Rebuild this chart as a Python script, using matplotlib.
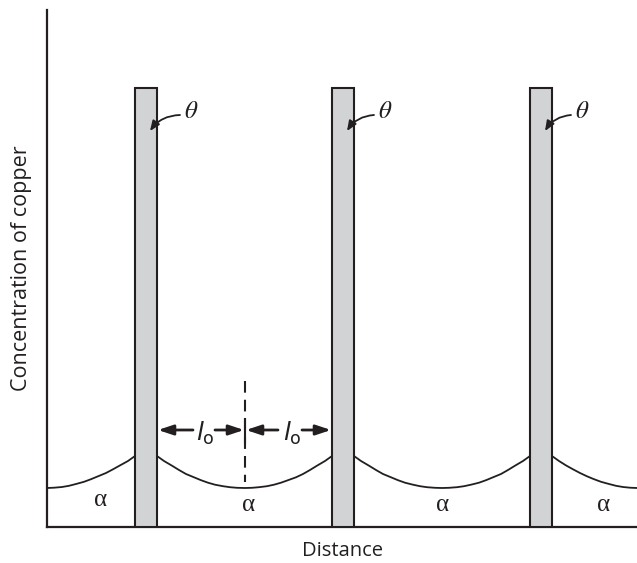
import matplotlib.pyplot as plt

# theta plates: left edge (distance units), width, height (concentration units)
theta_left = [88, 285, 483]
theta_width = 22
theta_top = 439

# alpha concentration profile
edge_x = [0, 7, 15, 22, 29, 37, 44, 51, 59, 66, 73, 81, 88]
edge_c = [39, 39.3, 40, 41.2, 43, 45.2, 47.8, 50.7, 54, 57.7, 61.6, 66, 71]
gap1_x = [110, 117, 125, 132, 139, 147, 154, 161, 168, 176, 183, 190, 198,
          205, 212, 220, 227, 234, 241, 249, 256, 263, 270, 278, 285]
gap2_x = [307, 314, 322, 329, 336, 344, 351, 358, 366, 373, 380, 388, 395,
          402, 410, 417, 424, 432, 439, 446, 454, 461, 468, 476, 483]
gap_c = [71, 66, 61.3, 57, 53, 49.7, 46.8, 44.3, 42.3, 40.8, 39.8, 39.2, 39,
         39.2, 39.8, 40.8, 42.3, 44.3, 46.8, 49.7, 53, 57, 61.3, 66, 71]
right_x = [505, 512, 519, 526, 533, 540, 547, 554, 562, 569, 576, 583, 590]
right_c = [71, 66, 61.6, 57.7, 54, 50.7, 47.8, 45.2, 43, 41.2, 40, 39.3, 39]

alpha_pos = [(54, 27), (202, 22), (396, 22), (557, 22)]
theta_lbl = [(142, 415), (336, 415), (533, 415)]

ink = '#231f20'
grey = '#d1d3d4'

plt.rcParams['mathtext.fontset'] = 'dejavusans'

fig = plt.figure(figsize=(6.37, 5.63), dpi=100)
ax = fig.add_axes([47 / 637, 36 / 563, 590 / 637, 517 / 563])
ax.set_xlim(0, 590)
ax.set_ylim(0, 517)
for s in ['top', 'right']:
    ax.spines[s].set_visible(False)
for s in ['left', 'bottom']:
    ax.spines[s].set_linewidth(1.6)
    ax.spines[s].set_color(ink)
ax.set_xticks([])
ax.set_yticks([])

# profile curves
for xs, cs in [(edge_x, edge_c), (gap1_x, gap_c), (gap2_x, gap_c), (right_x, right_c)]:
    ax.plot(xs, cs, color=ink, lw=1.3, solid_joinstyle='round')

# theta plates
ax.bar(theta_left, theta_top, width=theta_width, align='edge',
       color=grey, edgecolor=ink, lw=1.5, zorder=3)

# theta labels with curved arrows
for (tx, ty), bx in zip(theta_lbl, theta_left):
    ax.text(tx + 2, ty + 1, r'$\theta$', fontsize=18, color=ink, ha='center', va='center',
            math_fontfamily='stix')
    ax.annotate('', xy=(bx + 15, 396), xytext=(tx - 9, ty - 3),
                arrowprops=dict(arrowstyle='-|>,head_length=0.6,head_width=0.25',
                                color=ink, lw=1.3,
                                connectionstyle='arc3,rad=0.25', shrinkA=0, shrinkB=0),
                zorder=5)

# alpha labels
for ax_x, ax_y in alpha_pos:
    ax.text(ax_x, ax_y, '\u03b1', fontsize=18, color=ink, ha='center', va='center',
            family='Liberation Serif')

# dashed mid line and l_o arrows
mid = 198
ax.plot([mid, mid], [146, 45], color=ink, lw=1.5, dashes=(5.6, 3.4))
ax.plot([mid, mid], [84, 108], color=ink, lw=1.5)
ay = 97
aprops = dict(arrowstyle='-|>,head_length=0.9,head_width=0.3', color=ink, lw=2,
              shrinkA=0, shrinkB=0)
ax.annotate('', xy=(111, ay), xytext=(146, ay), arrowprops=aprops)
ax.annotate('', xy=(mid - 1, ay), xytext=(168, ay), arrowprops=aprops)
ax.annotate('', xy=(mid + 1, ay), xytext=(231, ay), arrowprops=aprops)
ax.annotate('', xy=(284, ay), xytext=(255, ay), arrowprops=aprops)
for lx in [158, 245]:
    ax.text(lx, ay - 3, r'$\mathit{l}_\mathrm{o}$', fontsize=18, color=ink,
            ha='center', va='center')

ax.set_xlabel('Distance', fontsize=14.5, color=ink, family='Open Sans', labelpad=10)
ax.set_ylabel('Concentration of copper', fontsize=15.5, color=ink, family='Open Sans',
              labelpad=11)

fig.savefig('out.png', dpi=100)
